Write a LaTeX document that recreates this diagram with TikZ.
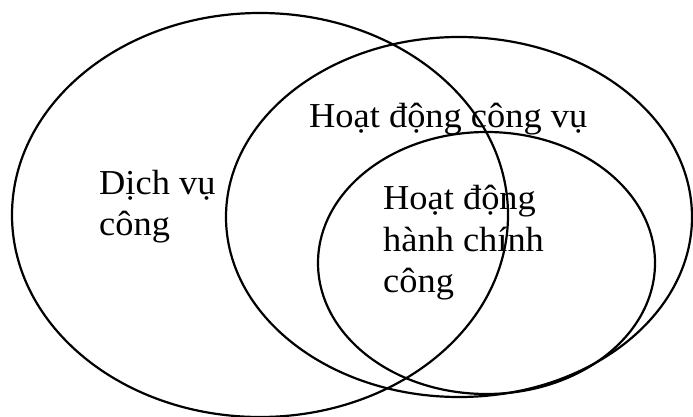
\documentclass[tikz,border=0pt]{standalone}
\usepackage{fontspec}
\setmainfont{Liberation Serif}[FakeStretch=1.04]
\begin{document}
\begin{tikzpicture}[x=1pt,y=-1pt,
  setline/.style={draw=black,line width=2.2pt},
  lbl/.style={inner sep=0pt,anchor=base west,font=\fontsize{35}{42}\selectfont}]
\useasboundingbox (0,0) rectangle (693,417);
% three overlapping sets
\draw[setline] (260,215) ellipse [x radius=248pt, y radius=202pt];
\draw[setline] (459,217) ellipse [x radius=233pt, y radius=180pt];
\draw[setline] (486.5,263) ellipse [x radius=168.5pt, y radius=131pt];
% labels
\node[lbl] (dv1) at (99,194) {Dịch vụ};
\node[lbl] (dv2) at (99,235) {công};
\node[lbl] (hdcv) at (309,128) {Hoạt động công vụ};
\node[lbl] (hc1) at (383,209) {Hoạt động};
\node[lbl] (hc2) at (383,251) {hành chính};
\node[lbl] (hc3) at (383,292) {công};
\end{tikzpicture}
\end{document}
